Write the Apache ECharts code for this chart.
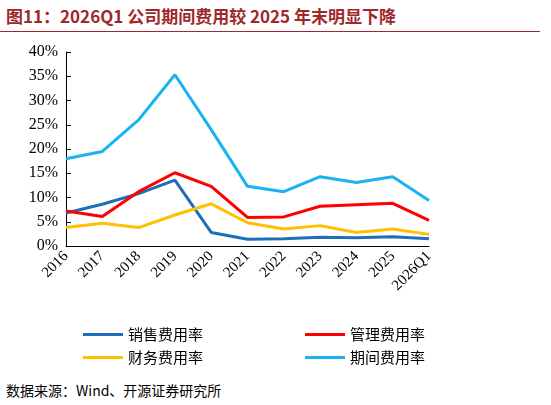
<!DOCTYPE html>
<html><head><meta charset="utf-8">
<script src="https://cdn.jsdelivr.net/npm/echarts@6/dist/echarts.min.js"></script>
<style>
body{margin:0;background:#fff;font-family:"Noto Sans CJK SC",sans-serif;}
#title{position:absolute;left:6px;top:3px;font-size:17px;font-weight:bold;color:#a0282a;font-family:"Noto Sans CJK SC","Liberation Serif";}
#line{position:absolute;left:0;top:31px;width:540px;border-top:1.5px solid #a0282a;}
#main{position:absolute;left:0;top:34px;width:551px;height:340px;}
#src{position:absolute;left:6px;top:380px;font-size:14px;color:#000;font-family:"Noto Sans CJK SC","Liberation Serif";}
</style></head><body>
<div id="title">图11：2026Q1 公司期间费用较 2025 年末明显下降</div>
<div id="line"></div>
<div id="main"></div>
<div id="src">数据来源：Wind、开源证券研究所</div>
<script>
var years = ["2016","2017","2018","2019","2020","2021","2022","2023","2024","2025","2026Q1"];
var sales = [6.8, 8.6, 10.8, 13.6, 2.8, 1.4, 1.5, 1.8, 1.7, 1.9, 1.5];
var admin = [7.2, 6.1, 11.2, 15.1, 12.3, 5.9, 6.0, 8.2, 8.5, 8.8, 5.3];
var finance = [3.8, 4.7, 3.8, 6.4, 8.7, 4.8, 3.5, 4.2, 2.8, 3.5, 2.4];
var period = [18.0, 19.5, 26.0, 35.3, 24.0, 12.3, 11.2, 14.3, 13.1, 14.3, 9.4];

var chart = echarts.init(document.getElementById("main"));
function s(name, data, color){
    return {name:name, type:"line", data:data, symbol:"none", lineStyle:{color:color,width:3}, itemStyle:{color:color}};
}
function lg(left, names){
    return {
        left:left, top:288, orient:"vertical", itemGap:8, itemWidth:40, itemHeight:3, icon:"rect",
        textStyle:{fontSize:15, color:"#000", fontFamily:"Noto Sans CJK SC"},
        data:names
    };
}
chart.setOption({
    animation:false,
    grid:{left:66, right:122, top:18, bottom:128},
    legend:[lg(78,["销售费用率","财务费用率"]), lg(300,["管理费用率","期间费用率"])],
    xAxis:{
        type:"category", data:years, boundaryGap:false,
        axisLine:{lineStyle:{color:"#000"}}, axisTick:{show:false},
        axisLabel:{rotate:45, color:"#000", fontSize:15, fontFamily:"Liberation Serif", interval:0, margin:8}
    },
    yAxis:{
        type:"value", min:0, max:40, interval:5,
        splitLine:{show:false},
        axisLine:{show:true, lineStyle:{color:"#000"}},
        axisTick:{show:true, inside:true},
        axisLabel:{formatter:"{value}%", color:"#000", fontSize:16, fontFamily:"Liberation Serif"}
    },
    series:[
        s("销售费用率", sales, "#1f6fb8"),
        s("管理费用率", admin, "#ff0000"),
        s("财务费用率", finance, "#ffc000"),
        s("期间费用率", period, "#1ab2f0")
    ]
});
</script>
</body></html>
